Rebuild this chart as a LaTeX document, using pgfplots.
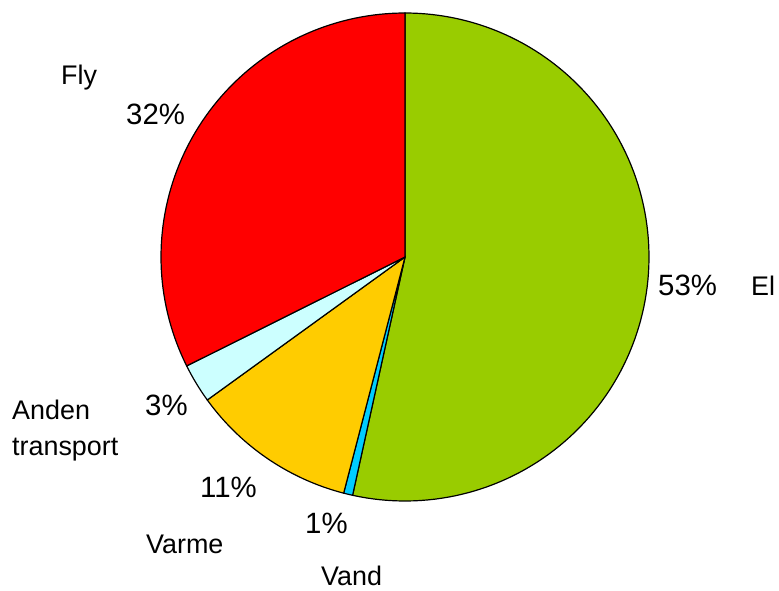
\documentclass[border=0pt]{standalone}
\usepackage{pgfplots}
\pgfplotsset{compat=1.18}
\usepackage{fontspec}
\setmainfont{Liberation Sans}
\definecolor{cEl}{HTML}{99CC00}
\definecolor{cVand}{HTML}{00CCFF}
\definecolor{cVarme}{HTML}{FFCC00}
\definecolor{cAnden}{HTML}{CCFFFF}
\definecolor{cFly}{HTML}{FF0000}
\begin{document}
\begin{tikzpicture}
% shares in percent
\pgfmathsetmacro{\vEl}{53.5}
\pgfmathsetmacro{\vVand}{0.6}
\pgfmathsetmacro{\vVarme}{11.0}
\pgfmathsetmacro{\vAnden}{2.6}
\pgfmathsetmacro{\vFly}{32.4}
\pgfmathsetmacro{\tot}{\vEl+\vVand+\vVarme+\vAnden+\vFly}
\pgfmathsetmacro{\k}{360/\tot}
\pgfmathsetmacro{\aA}{90}
\pgfmathsetmacro{\aB}{\aA-\k*\vEl}
\pgfmathsetmacro{\aC}{\aB-\k*\vVand}
\pgfmathsetmacro{\aD}{\aC-\k*\vVarme}
\pgfmathsetmacro{\aE}{\aD-\k*\vAnden}
\pgfmathsetmacro{\aF}{\aE-\k*\vFly}
\begin{axis}[width=779bp, height=591bp, scale only axis,
  xmin=0, xmax=779, ymin=0, ymax=591, y dir=reverse,
  axis lines=none, clip=false]
\path (axis cs:0,0) rectangle (axis cs:779,591);
\addplot[draw=black, fill=cEl, line width=1.2pt, domain=\aB:\aA, samples=120]
  ({405+244*cos(x)},{257-244*sin(x)}) -- (axis cs:405,257) -- cycle;
\addplot[draw=black, fill=cVand, line width=1.2pt, domain=\aC:\aB, samples=5]
  ({405+244*cos(x)},{257-244*sin(x)}) -- (axis cs:405,257) -- cycle;
\addplot[draw=black, fill=cVarme, line width=1.2pt, domain=\aD:\aC, samples=40]
  ({405+244*cos(x)},{257-244*sin(x)}) -- (axis cs:405,257) -- cycle;
\addplot[draw=black, fill=cAnden, line width=1.2pt, domain=\aE:\aD, samples=12]
  ({405+244*cos(x)},{257-244*sin(x)}) -- (axis cs:405,257) -- cycle;
\addplot[draw=black, fill=cFly, line width=1.2pt, domain=\aF:\aE, samples=80]
  ({405+244*cos(x)},{257-244*sin(x)}) -- (axis cs:405,257) -- cycle;
% labels
\tikzset{nm/.style={anchor=base west, inner sep=0pt, font=\fontsize{27}{31}\selectfont},
         pc/.style={anchor=base west, inner sep=0pt, font=\fontsize{29.5}{34}\selectfont}}
\node[nm] at (axis cs:61,85) {Fly};
\node[pc] at (axis cs:126,124) {32\%};
\node[pc] at (axis cs:658,295) {53\%};
\node[nm] at (axis cs:751,295) {El};
\node[pc] at (axis cs:145,415) {3\%};
\node[nm] at (axis cs:12,419) {Anden};
\node[nm] at (axis cs:12,455) {transport};
\node[pc] at (axis cs:200,497) {11\%};
\node[nm] at (axis cs:146,553) {Varme};
\node[pc] at (axis cs:305,533) {1\%};
\node[nm] at (axis cs:321,585) {Vand};
\end{axis}
\end{tikzpicture}
\end{document}
